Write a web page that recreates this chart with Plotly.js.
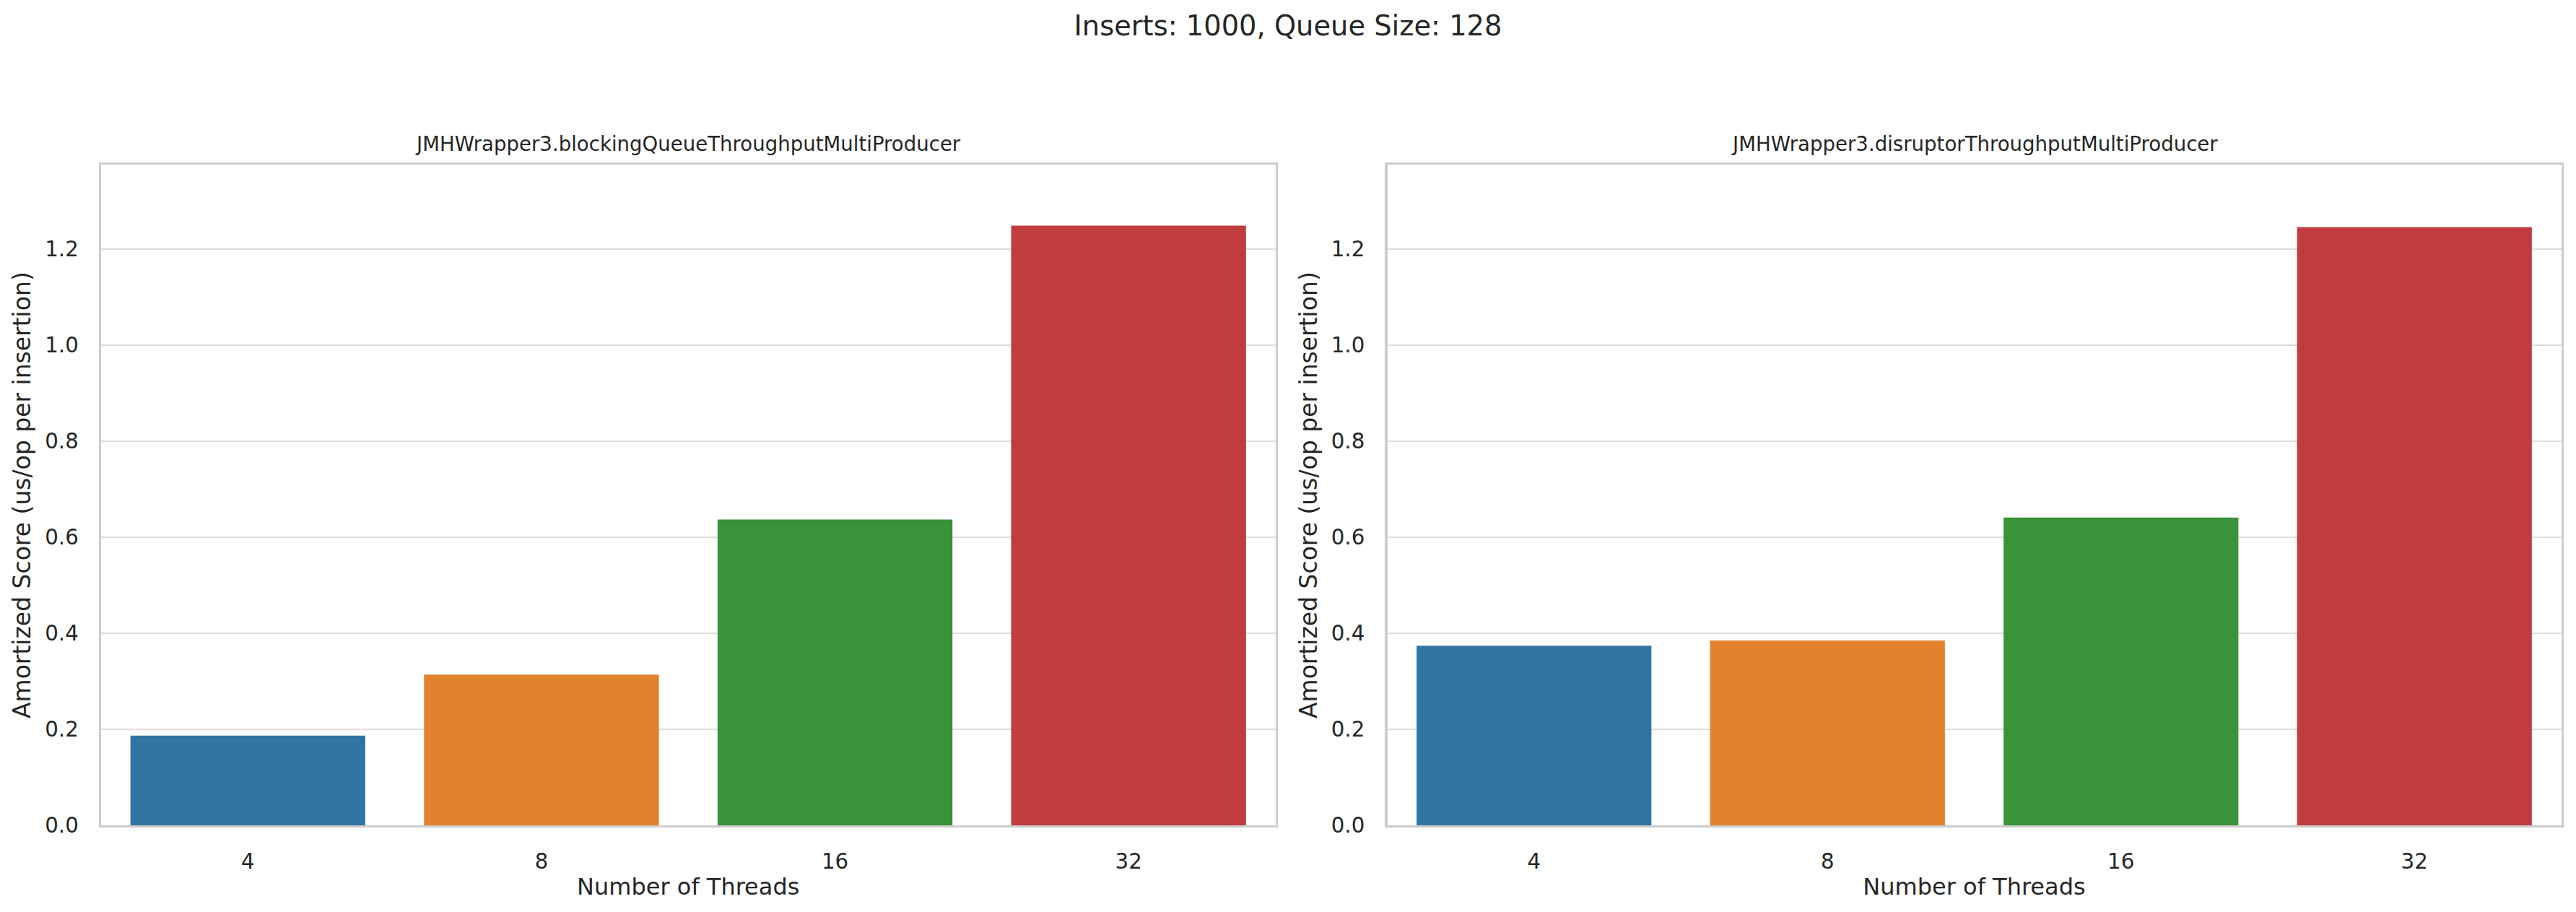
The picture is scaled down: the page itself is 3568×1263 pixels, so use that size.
<!DOCTYPE html>
<html>
<head>
<meta charset="utf-8">
<script src="https://cdn.plot.ly/plotly-3.0.1.min.js"></script>
<style>html,body{margin:0;padding:0;background:#fff;}#chart{width:3568px;height:1263px;}</style>
</head>
<body>
<div id="chart"></div>
<script>
// ---- data ----
const threads = ["4", "8", "16", "32"];
const blockingQueueScores = [0.187, 0.314, 0.637, 1.249];
const disruptorScores = [0.374, 0.385, 0.641, 1.246];
const barColors = ["#3274a1", "#e1812c", "#3a923a", "#c03d3e"];
const panelTitles = ["JMHWrapper3.blockingQueueThroughputMultiProducer", "JMHWrapper3.disruptorThroughputMultiProducer"];
const suptitle = "Inserts: 1000, Queue Size: 128";
const xLabel = "Number of Threads";
const yLabel = "Amortized Score (us/op per insertion)";
const yTicks = [0.0, 0.2, 0.4, 0.6, 0.8, 1.0, 1.2];

const FONT = "DejaVu Sans";
const TXT = "#262626";
const W = 3568, H = 1263;

const traces = [
  {type: "bar", x: threads, y: blockingQueueScores, marker: {color: barColors}, xaxis: "x", yaxis: "y", showlegend: false, hoverinfo: "x+y"},
  {type: "bar", x: threads, y: disruptorScores, marker: {color: barColors}, xaxis: "x2", yaxis: "y2", showlegend: false, hoverinfo: "x+y"}
];

const yDomain = [(H - 1143) / H, (H - 228.3) / H];
function xAxis(domain, anchor) {
  return {
    domain: domain, anchor: anchor, type: "category",
    showline: true, mirror: true, linecolor: "#cccccc", linewidth: 3.3,
    showgrid: false, zeroline: false, ticks: "",
    tickfont: {family: FONT, size: 29.3, color: TXT},
    ticklabelstandoff: 22,
    title: {text: xLabel, font: {family: FONT, size: 32, color: TXT}, standoff: 8},
    automargin: false, fixedrange: true
  };
}
function yAxis(domain, anchor) {
  return {
    domain: domain, anchor: anchor, range: [0, 1.3755],
    tickvals: yTicks, tickformat: ".1f",
    showline: true, mirror: true, linecolor: "#cccccc", linewidth: 3.3,
    showgrid: true, gridcolor: "#dddddd", gridwidth: 2.7, zeroline: false, ticks: "",
    tickfont: {family: FONT, size: 29.3, color: TXT},
    ticklabelstandoff: 22,
    title: {text: yLabel, font: {family: FONT, size: 33, color: TXT}, standoff: 10},
    automargin: false, fixedrange: true
  };
}

const layout = {
  width: W, height: H,
  margin: {l: 0, r: 0, t: 0, b: 0},
  paper_bgcolor: "#ffffff", plot_bgcolor: "#ffffff",
  font: {family: FONT, color: TXT},
  bargap: 0.2,
  title: {text: suptitle, font: {family: FONT, size: 38.4, color: TXT}, x: 0.5, xanchor: "center", y: 1 - 36 / H, yanchor: "middle"},
  xaxis: xAxis([140 / W, 1766.5 / W], "y"),
  yaxis: yAxis(yDomain, "x"),
  xaxis2: xAxis([1921.5 / W, 3547.5 / W], "y2"),
  yaxis2: yAxis(yDomain, "x2"),
  annotations: [
    {text: panelTitles[0], xref: "paper", yref: "paper", x: (140 + 1766.5) / 2 / W, y: 1 - 200 / H, xanchor: "center", yanchor: "middle", showarrow: false, font: {family: FONT, size: 27.6, color: TXT}},
    {text: panelTitles[1], xref: "paper", yref: "paper", x: (1921.5 + 3547.5) / 2 / W, y: 1 - 200 / H, xanchor: "center", yanchor: "middle", showarrow: false, font: {family: FONT, size: 27.6, color: TXT}}
  ]
};

Plotly.newPlot("chart", traces, layout, {displayModeBar: false, staticPlot: true});
</script>
</body>
</html>
